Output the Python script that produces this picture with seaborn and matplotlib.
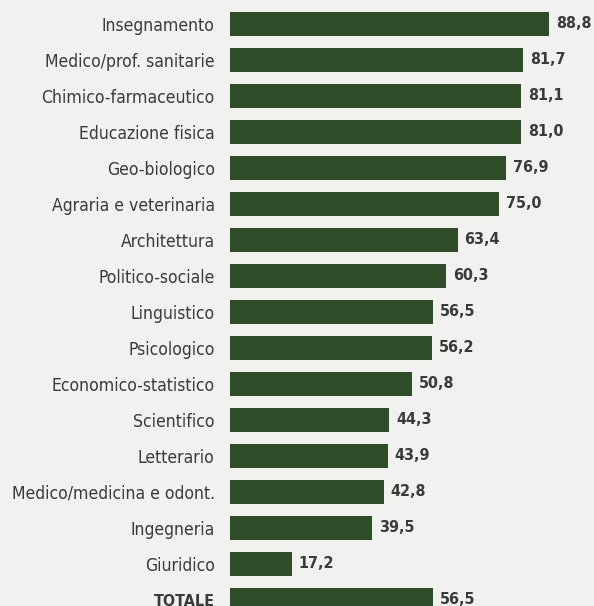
import matplotlib
matplotlib.use("Agg")
import matplotlib.pyplot as plt
import seaborn as sns
import pandas as pd

categories = ["Insegnamento", "Medico/prof. sanitarie", "Chimico-farmaceutico",
              "Educazione fisica", "Geo-biologico", "Agraria e veterinaria",
              "Architettura", "Politico-sociale", "Linguistico", "Psicologico",
              "Economico-statistico", "Scientifico", "Letterario",
              "Medico/medicina e odont.", "Ingegneria", "Giuridico", "TOTALE"]
values = [88.8, 81.7, 81.1, 81.0, 76.9, 75.0, 63.4, 60.3, 56.5, 56.2,
          50.8, 44.3, 43.9, 42.8, 39.5, 17.2, 56.5]
value_labels = ["88,8", "81,7", "81,1", "81,0", "76,9", "75,0", "63,4", "60,3",
                "56,5", "56,2", "50,8", "44,3", "43,9", "42,8", "39,5", "17,2", "56,5"]

df = pd.DataFrame({"cat": categories, "val": values})

sns.set_theme(style="white")
plt.rcParams["font.family"] = ["DejaVu Sans"]

bg = "#f1f1ef"
green = "#2f4d29"
txt = "#3a3a3a"

fig = plt.figure(figsize=(5.94, 6.06), dpi=100, facecolor=bg)
ax = fig.add_axes([230 / 594, 0, 1 - 230 / 594, 1])
ax.set_facecolor(bg)

sns.barplot(data=df, y="cat", x="val", orient="h", color=green,
            saturation=1, width=0.68, linewidth=0, ax=ax)

ax.set_xlim(0, (594 - 230) / 3.59)
ax.set_ylim(16 + 6 / 36, -24 / 36)
ax.set_xlabel("")
ax.set_ylabel("")
ax.set_xticks([])
for s in ax.spines.values():
    s.set_visible(False)

ax.set_yticks(range(len(categories)))
ax.set_yticklabels(categories)
ax.tick_params(axis="y", length=0, pad=11, labelsize=12.6, labelcolor=txt)
for lbl in ax.get_yticklabels():
    lbl.set_fontfamily("DejaVu Sans")
    lbl.set_fontstretch("condensed")
    if lbl.get_text() == "TOTALE":
        lbl.set_fontweight("bold")
        lbl.set_fontsize(11.5)

for cont in ax.containers:
    ax.bar_label(cont, labels=value_labels, padding=5, fontsize=11.5,
                 fontweight="bold", color=txt, fontstretch="condensed")

fig.savefig("out.png", dpi=100, facecolor=bg)
